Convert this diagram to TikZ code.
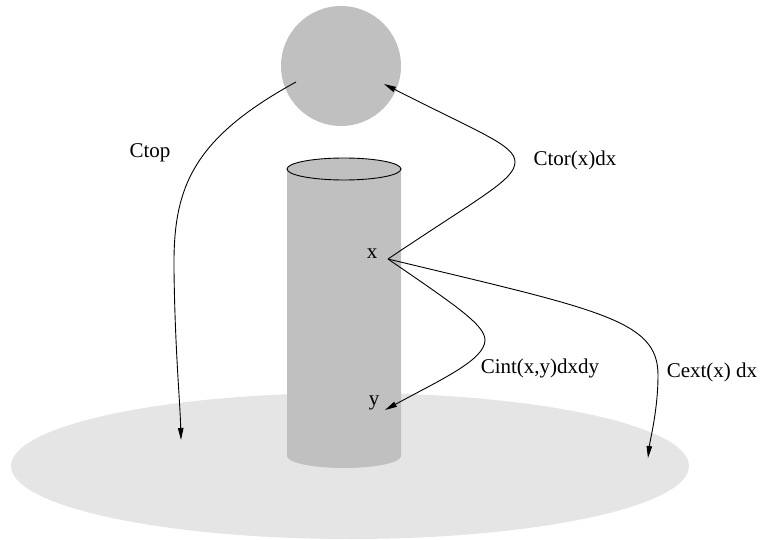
\documentclass[tikz,border=0pt]{standalone}
\usepackage{fontspec}
\setmainfont{Liberation Serif}
\usetikzlibrary{arrows.meta,shapes.geometric}
\definecolor{groundgray}{HTML}{E5E5E5}
\definecolor{solidgray}{HTML}{C0C0C0}
\tikzset{
  lbl/.style={font=\fontsize{21}{25}\selectfont, inner sep=0pt},
  conn/.style={line width=0.9pt, -{Triangle[length=12pt,width=5.5pt]}},
}
\begin{document}
\begin{tikzpicture}[x=1pt,y=-1pt]
\useasboundingbox (0,0) rectangle (771,540);
% ground
\node[ellipse, fill=groundgray, minimum width=678pt, minimum height=146pt, inner sep=0pt] (ground) at (350,466) {};
% sphere
\node[circle, fill=solidgray, minimum size=120pt, inner sep=0pt] (sphere) at (341,66) {};
% cylinder
\fill[solidgray] (287,169) -- (287,456) arc[start angle=180,end angle=0,x radius=57,y radius=12] -- (401,169) -- cycle;
\draw[line width=0.9pt, fill=solidgray] (344,169) ellipse[x radius=57, y radius=11];
% labels
\node[lbl] (xl) at (372,254) {x};
\node[lbl] (yl) at (374,403) {y};
\node[lbl] (ctop) at (150,153) {Ctop};
\node[lbl] (ctor) at (575,160) {Ctor(x)dx};
\node[lbl] (cint) at (540,368) {Cint(x,y)dxdy};
\node[lbl] (cext) at (712,372) {Cext(x) dx};
% connector end points
\coordinate (xp) at (388,259);
\coordinate (ytip) at (385,410);
\coordinate (sphs) at (296,82);
\coordinate (spht) at (384,84);
\coordinate (gl) at (181,440);
\coordinate (gr) at (648,458);
% connectors
\draw[conn] (sphs) .. controls (190,140) and (173,190) .. (174,270) .. controls (175,350) and (180,400) .. (gl);
\draw[conn] (xp) .. controls (480,197) and (515,180) .. (515,162) .. controls (515,145) and (480,133) .. (spht);
\draw[conn] (xp) .. controls (455,305) and (485,325) .. (485,340) .. controls (485,360) and (440,380) .. (ytip);
\draw[conn] (xp) .. controls (600,310) and (658,320) .. (658,375) .. controls (658,410) and (650,440) .. (gr);
\end{tikzpicture}
\end{document}
